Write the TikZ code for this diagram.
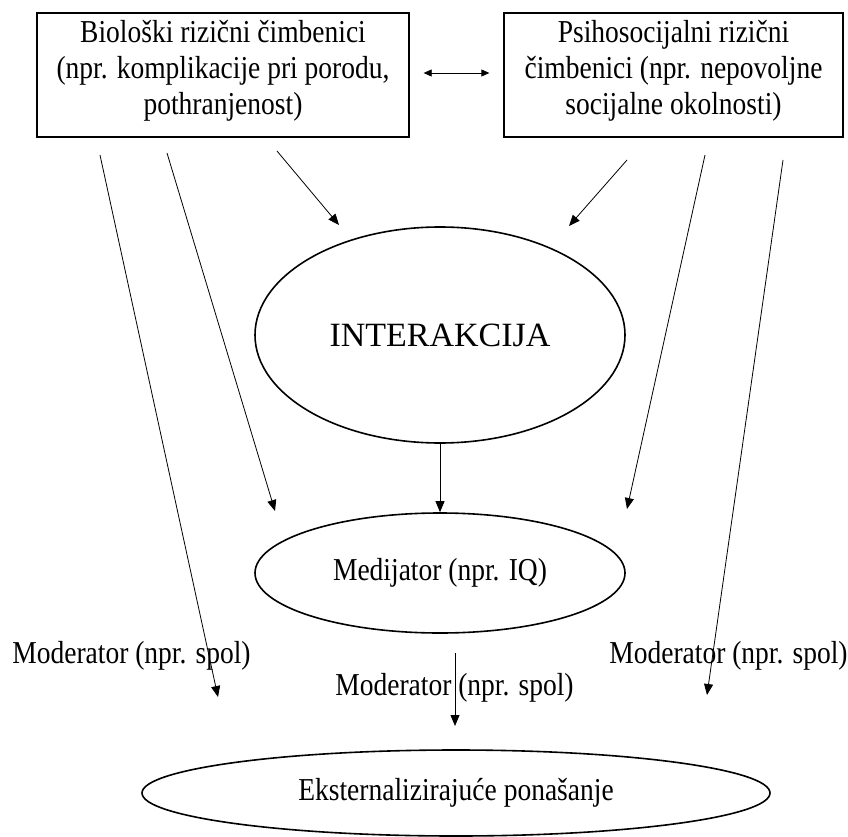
\documentclass[tikz,border=0pt]{standalone}
\usepackage{fontspec}
\setmainfont{Liberation Serif}
\usetikzlibrary{shapes.geometric,arrows.meta}
\newcommand{\vstretch}[1]{\scalebox{1}[1.16]{#1}}
\newcommand{\threelines}[3]{\vstretch{\begin{tabular}{@{}c@{}}#1\\#2\\#3\end{tabular}}}
\begin{document}
\begin{tikzpicture}[x=1pt,y=-1pt,
  box/.style={draw,line width=1.3pt,rectangle,inner sep=0pt,font=\fontsize{27.5}{31}\selectfont},
  oval/.style={draw,line width=1.6pt,ellipse,inner sep=0pt},
  txt/.style={font=\fontsize{27.5}{31}\selectfont},
  conn/.style={line width=0.8pt,-{Triangle[length=11pt,width=9pt]}},
  dbl/.style={line width=0.8pt,{Triangle[length=8pt,width=7pt]}-{Triangle[length=8pt,width=7pt]}},
  lbl/.style={font=\fontsize{27.5}{31}\selectfont,inner sep=0pt,anchor=base}]
\useasboundingbox (0,0) rectangle (848,837);
% boxes
\node[box,minimum width=372pt,minimum height=124pt] (bio) at (223,75) {};
\node[box,minimum width=339pt,minimum height=124pt] (psi) at (673.5,75) {};
\node[txt,inner sep=0pt] (biot) at ([yshift=4pt]bio.center)
  {\threelines{Biološki rizični čimbenici}{(npr. komplikacije pri porodu,}{pothranjenost)}};
\node[txt,inner sep=0pt] (psit) at ([yshift=4pt]psi.center)
  {\threelines{Psihosocijalni rizični}{čimbenici (npr. nepovoljne}{socijalne okolnosti)}};
\draw[dbl] ([xshift=14pt,yshift=2pt]bio.east) -- ([xshift=-14pt,yshift=2pt]psi.west);
% ellipses
\node[oval,minimum width=370pt,minimum height=216pt,font=\fontsize{34}{40}\selectfont] (int) at (440,335) {INTERAKCIJA};
\node[oval,txt,minimum width=370pt,minimum height=120pt] (med) at (440,573) {\vstretch{Medijator (npr. IQ)}};
\node[oval,txt,minimum width=628pt,minimum height=86pt] (ext) at (456,793) {\vstretch{Eksternalizirajuće ponašanje}};
% free arrow ends
\coordinate (a1s) at (100,155); \coordinate (a1e) at (218,697);
\coordinate (a2s) at (167,153); \coordinate (a2e) at (275,511);
\coordinate (a3s) at (277,151); \coordinate (a3e) at (339,225);
\coordinate (a4s) at (627,160); \coordinate (a4e) at (569,226);
\coordinate (a5s) at (705,155); \coordinate (a5e) at (627,509);
\coordinate (a6s) at (783,160); \coordinate (a6e) at (707,695);
\coordinate (a7s) at (455,653); \coordinate (a7e) at (455,726);
\draw[conn] (a1s) -- (a1e);
\draw[conn] (a2s) -- (a2e);
\draw[conn] (a3s) -- (a3e);
\draw[conn] (a4s) -- (a4e);
\draw[conn] (a5s) -- (a5e);
\draw[conn] (a6s) -- (a6e);
\draw[conn] (int.south) -- (med.north);
\draw[conn] (a7s) -- (a7e);
% labels
\node[lbl] (m1) at (131.5,663) {\vstretch{Moderator (npr. spol)}};
\node[lbl] (m2) at (728.5,663) {\vstretch{Moderator (npr. spol)}};
\node[lbl] (m3) at (454.5,695) {\vstretch{Moderator (npr. spol)}};
\end{tikzpicture}
\end{document}
